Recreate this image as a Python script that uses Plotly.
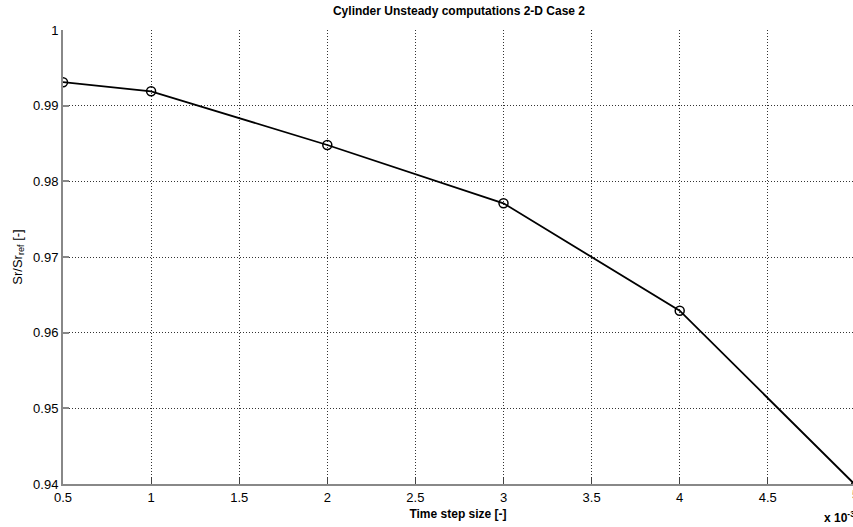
import plotly.graph_objects as go

# Data (time step size in units of 1e-3)
dt = [0.5, 1, 2, 3, 4, 5]
sr_ratio = [0.9931, 0.9919, 0.9848, 0.9771, 0.9629, 0.9398]

x_ticks = [0.5, 1, 1.5, 2, 2.5, 3, 3.5, 4, 4.5, 5]
y_ticks = [0.94, 0.95, 0.96, 0.97, 0.98, 0.99, 1.0]
y_tick_text = ["0.94", "0.95", "0.96", "0.97", "0.98", "0.99", "1"]

W, H = 853, 527
L, T, B = 63, 30, 43
px_per_unit = 176.2
x_max = 0.5 + (W - L) / px_per_unit

fig = go.Figure()
fig.add_trace(go.Scatter(
    x=dt, y=sr_ratio, mode="lines+markers",
    line=dict(color="black", width=1.8),
    marker=dict(symbol="circle-open", size=9, color="black", line=dict(width=1.5)),
    showlegend=False,
))

font = dict(family="Liberation Sans, Arial, sans-serif", color="black")

fig.update_layout(
    width=W, height=H,
    margin=dict(l=L, r=0, t=T, b=B),
    paper_bgcolor="white", plot_bgcolor="white",
    font=dict(size=13, **font),
    title=dict(text="<b>Cylinder Unsteady computations 2-D Case 2</b>",
               x=(L + 396) / W, xanchor="center", y=1 - 11 / H, yanchor="middle",
               font=dict(size=12, **font)),
    xaxis=dict(
        range=[0.5, x_max], tickvals=x_ticks, ticktext=[str(v) for v in x_ticks],
        showgrid=True, gridcolor="#333", griddash="1px,2px", gridwidth=1,
        showline=True, linecolor="#888", linewidth=2,
        ticks="inside", ticklen=6, tickcolor="#444", tickwidth=1,
        zeroline=False, tickfont=dict(size=13, **font),
        title=dict(text="<b>Time step size [-]</b>", font=dict(size=12, **font), standoff=6),
    ),
    yaxis=dict(
        range=[0.94, 1.0], tickvals=y_ticks, ticktext=y_tick_text,
        showgrid=True, gridcolor="#333", griddash="1px,2px", gridwidth=1,
        showline=True, linecolor="#888", linewidth=2,
        ticks="inside", ticklen=6, tickcolor="#888", tickwidth=2,
        zeroline=False, tickfont=dict(size=13, **font),
        title=dict(text="Sr/Sr<sub>ref</sub> [-]", font=dict(size=13, **font), standoff=8),
    ),
)

fig.add_annotation(text="<b>x 10<sup>-3</sup></b>", xref="paper", yref="paper",
                   x=(822 - L) / (W - L), y=-(517 - (H - B)) / (H - T - B),
                   xanchor="left", yanchor="middle", showarrow=False,
                   font=dict(size=12, **font))
fig.add_annotation(text="5", xref="paper", yref="paper",
                   x=(855 - L) / (W - L), y=-(494 - (H - B)) / (H - T - B),
                   xanchor="center", yanchor="middle", showarrow=False,
                   font=dict(size=13, **font))

fig.write_html("out.html")
